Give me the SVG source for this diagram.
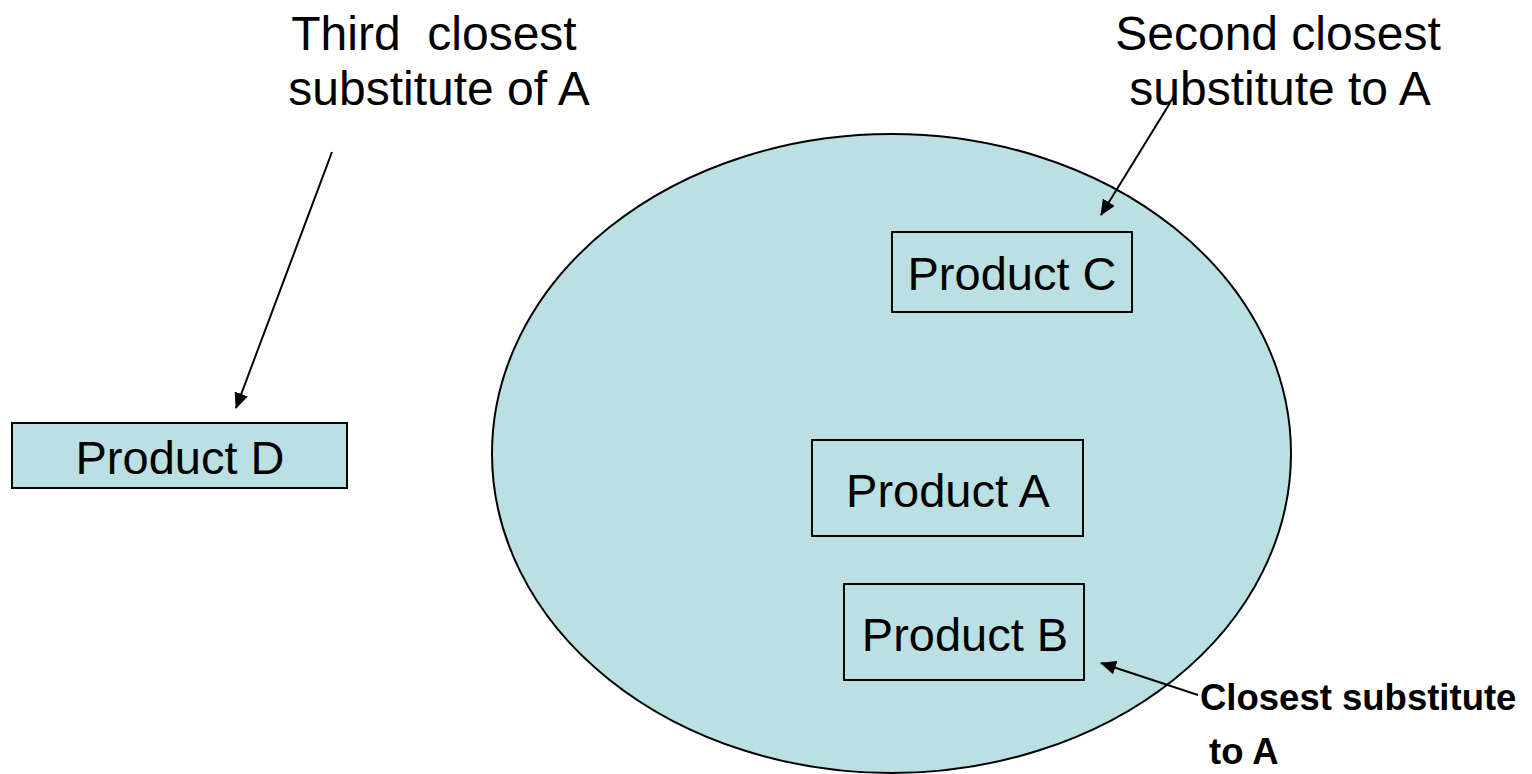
<svg xmlns="http://www.w3.org/2000/svg" width="1532" height="774" viewBox="0 0 1532 774">
<style>
.box{fill:#BBE0E3;stroke:#000;stroke-width:2}
.t{font-family:"Liberation Sans",Arial,sans-serif;font-size:47px;fill:#000}
.h{font-family:"Liberation Sans",Arial,sans-serif;font-size:48px;fill:#000}
.b{font-family:"Liberation Sans",Arial,sans-serif;font-size:36.5px;font-weight:bold;fill:#000}
.c{stroke:#000;stroke-width:2;fill:none;marker-end:url(#ah)}
</style>
<defs>
<marker id="ah" markerWidth="16" markerHeight="14" refX="15" refY="7" orient="auto" markerUnits="userSpaceOnUse" viewBox="0 0 16 14">
<path d="M0,0 L16,7 L0,14 z" fill="#000"/>
</marker>
</defs>
<rect width="1532" height="774" fill="#fff"/>
<g id="market">
<ellipse cx="891.5" cy="453.5" rx="399.5" ry="319.5" class="box"/>
</g>
<g id="productC">
<rect x="892" y="232" width="240" height="80" class="box"/>
<text x="1012" y="290" class="t" text-anchor="middle">Product C</text>
</g>
<g id="productA">
<rect x="812" y="440" width="271" height="96" class="box"/>
<text x="948" y="507" class="t" text-anchor="middle">Product A</text>
</g>
<g id="productB">
<rect x="844" y="584" width="240" height="96" class="box"/>
<text x="965" y="651" class="t" text-anchor="middle">Product B</text>
</g>
<g id="productD">
<rect x="12" y="423" width="335" height="65" class="box"/>
<text x="180" y="474" class="t" text-anchor="middle">Product D</text>
</g>
<g id="labelThird">
<text x="434" y="50" class="h" text-anchor="middle" xml:space="preserve">Third  closest</text>
<text x="439" y="105" class="h" text-anchor="middle">substitute of A</text>
</g>
<g id="labelSecond">
<text x="1278" y="50" class="h" text-anchor="middle">Second closest</text>
<text x="1280" y="105" class="h" text-anchor="middle">substitute to A</text>
</g>
<g id="labelClosest">
<text x="1200" y="710" class="b">Closest substitute</text>
<text x="1209" y="764" class="b">to A</text>
</g>
<g id="connectors">
<line x1="332" y1="152" x2="236" y2="408" class="c"/>
<line x1="1170" y1="103" x2="1101" y2="215" class="c"/>
<line x1="1198" y1="695" x2="1101" y2="663" class="c"/>
</g>
</svg>
